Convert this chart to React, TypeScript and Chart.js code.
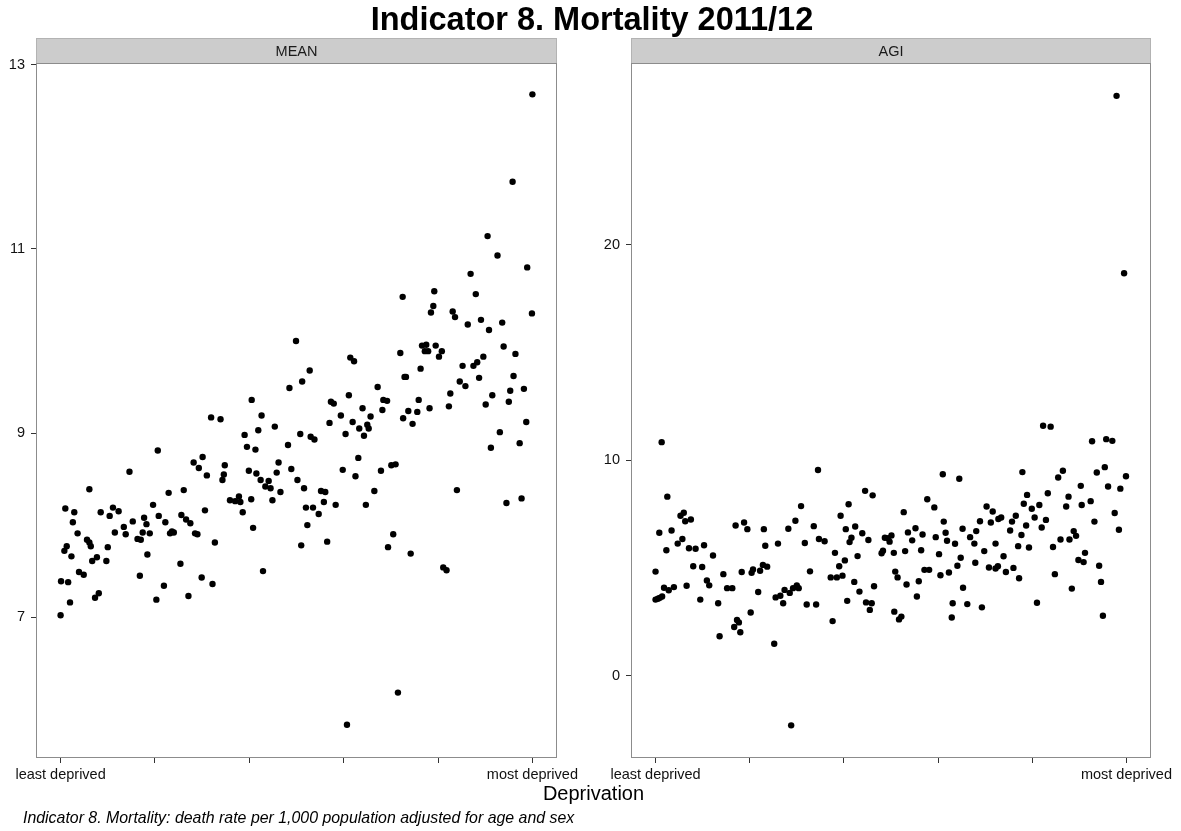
import React, { useEffect, useRef } from 'react';
import { Chart, registerables } from 'chart.js';

Chart.register(...registerables);

// ---------- data ----------
const chartTitle = 'Indicator 8. Mortality 2011/12';
const xAxisTitle = 'Deprivation';
const caption = 'Indicator 8. Mortality: death rate per 1,000 population adjusted for age and sex';
const panelNames = ['MEAN', 'AGI'];

const xTickValues = [0, 20, 40, 60, 80, 100];
const xTickLabels = ['least deprived', '', '', '', '', 'most deprived'];
const meanTicks = [7, 9, 11, 13];
const agiTicks = [0, 10, 20];

// deprivation position (0 = least deprived, 100 = most deprived)
const meanRank = [
  0, 0.1, 1.6, 2.0, 0.8, 1.3, 2.3, 1.0, 2.9, 2.6, 3.6, 3.9, 4.9, 5.6, 6.1, 6.4, 6.1, 6.7, 7.7, 7.3,
  8.1, 8.5, 9.7, 10.0, 10.4, 11.1, 12.3, 11.5, 13.4, 13.8, 14.6, 15.3, 16.3, 17.0, 17.4, 16.8, 17.7, 18.2, 18.4, 18.9,
  19.6, 20.3, 20.6, 20.8, 21.9, 22.2, 22.9, 23.2, 23.6, 24.0, 25.4, 25.6, 26.6, 27.5, 26.1, 27.1, 28.2, 29.3, 30.1, 31.0,
  28.5, 29.0, 29.9, 30.6, 31.9, 32.2, 32.7,
  33.9, 34.8, 34.6, 34.3, 35.9, 37.0, 37.8, 38.1, 38.6, 39.0, 39.5, 39.9, 40.4, 40.5, 40.8, 41.3, 41.5, 41.9, 42.4, 42.6,
  42.9, 43.4, 44.1, 44.5, 44.9, 45.4, 45.8, 46.2, 46.6, 48.2, 48.5, 48.9, 49.9, 50.2, 50.8, 51.0, 51.2, 51.6, 52.0, 52.3,
  52.8, 53.0, 53.5, 53.8, 54.7, 55.2, 55.8, 56.1, 56.5, 57.0, 57.3, 57.9, 58.3, 59.4, 59.8, 60.4, 60.7, 61.1, 61.4, 62.2,
  61.9, 62.5, 63.1, 63.3, 64.0, 64.3, 64.7, 65.0, 65.3, 65.7, 66.5, 67.2, 67.9, 68.2, 68.4, 69.2, 69.4,
  70.1, 71.0, 70.5, 71.5, 72.0, 72.5, 72.6, 72.9, 73.2, 73.7, 74.2, 74.6, 75.6, 75.9, 76.3, 76.6, 77.5, 77.2, 77.9, 78.2,
  78.5, 79.0, 79.2, 79.5, 80.2, 80.8, 81.1, 81.8, 82.3, 82.6, 83.1, 83.6, 84.0, 84.6, 85.2, 85.8, 86.3, 86.9, 87.5, 88.3,
  88.0, 88.7, 89.1, 89.6, 90.1, 90.5, 90.8, 91.2, 91.5, 92.6, 93.1, 93.6, 93.9, 94.5, 95.0, 95.3, 95.8, 96.0, 96.4, 97.3,
  97.7, 98.2, 98.7, 98.9, 99.9, 100,
];
const meanRate = [
  7.02, 7.39, 7.38, 7.16, 7.72, 7.77, 7.66, 8.18, 8.14, 8.03, 7.91, 7.49, 7.46, 7.84, 7.81, 7.77, 8.39, 7.61, 7.65, 7.21,
  7.26, 8.14, 7.61, 7.76, 8.10, 8.19, 8.15, 7.92, 7.98, 7.90, 8.58, 8.04, 7.85, 7.84, 7.92, 7.45, 8.08, 8.01, 7.68, 7.91,
  8.22, 7.19, 8.81, 8.10, 7.34, 8.03, 8.35, 7.91, 7.93, 7.92, 7.58, 8.11, 8.06, 8.02, 8.38, 7.23, 8.68, 8.62, 8.74, 8.54,
  7.91, 7.90, 7.43, 8.16, 9.17, 7.36, 7.81,
  9.15, 8.65, 8.55, 8.49, 8.27, 8.26, 8.31, 8.25, 8.14, 8.98, 8.85, 8.59, 8.28, 9.36, 7.97, 8.82, 8.56, 9.03, 8.49, 9.19,
  7.50, 8.42, 8.48, 8.40, 8.27, 9.07, 8.57, 8.68, 8.36, 8.87, 9.49, 8.61, 10.00, 8.49, 8.99, 7.78, 9.56, 8.40, 8.19, 8.00,
  9.68, 8.96, 8.19, 8.93, 8.12, 8.37, 8.25, 8.36, 7.82, 9.11, 9.34, 9.32, 8.22, 9.19, 8.60, 8.99, 5.83, 9.41, 9.82, 9.78,
  9.12, 8.53, 8.73, 9.05, 9.27, 8.97, 8.22, 9.09, 9.05, 9.18, 8.37, 9.50, 8.59, 9.25, 9.36, 9.35, 7.76,
  8.65, 8.66, 7.90, 6.18, 9.87, 10.48, 9.16, 9.61, 9.61, 9.24, 7.69, 9.10, 9.23, 9.36, 9.70, 9.95, 9.96, 9.89, 9.89, 9.27,
  10.31, 10.38, 10.54, 9.95, 9.83, 9.89, 7.54, 7.51, 9.29, 9.43, 10.32, 10.26, 8.38, 9.56, 9.73, 9.51, 10.18, 10.73, 9.73, 9.77,
  10.51, 9.60, 10.23, 9.83, 9.31, 11.14, 10.12, 8.84, 9.41, 10.93, 9.01, 10.20, 9.94, 8.24, 9.34, 9.46, 11.73, 9.62, 9.86, 8.89,
  8.29, 9.48, 9.12, 10.80, 10.30, 12.68,
];

const agiRank = [
  0, 0, 0.5, 0.9, 1.4, 1.3, 0.8, 2.3, 2.5, 1.8, 2.8, 3.9, 3.4, 4.7, 5.3, 6.0, 5.7, 6.3, 7.5, 6.6,
  7.1, 8.5, 8.0, 9.9, 9.5, 10.3, 10.9, 11.4, 12.2, 13.3, 13.6, 14.4, 15.2, 16.3, 17.0, 16.7, 17.3, 17.7, 18.0, 18.3,
  18.8, 19.5, 20.2, 20.4, 20.7, 21.8, 22.2, 22.8, 23.7, 23.0, 23.3, 25.2, 26.0, 25.5, 26.5, 27.1, 27.4, 28.5, 29.2, 30.0,
  30.4, 28.8, 28.2, 29.7, 30.9, 31.7, 32.1, 32.8,
  34.1, 33.6, 34.5, 34.7, 35.9, 37.6, 37.2, 38.5, 39.7, 38.1, 39.0, 39.3, 40.2, 40.4, 41.0, 40.7, 41.2, 41.6, 42.2, 42.4,
  42.9, 43.3, 43.9, 44.5, 44.7, 45.9, 45.2, 45.5, 46.1, 46.4, 48.0, 48.3, 48.7, 49.4, 50.1, 49.7, 50.6, 50.9, 51.4, 50.7,
  51.7, 52.2, 52.7, 53.0, 53.3, 53.6, 54.5, 55.2, 55.5, 55.9, 56.4, 56.7, 57.1, 58.1, 57.7, 59.2, 59.5, 60.2, 60.5, 61.0,
  61.2, 61.6, 61.9, 62.3, 62.9, 63.1, 63.6, 64.1, 64.5, 64.8, 65.2, 65.3, 66.2, 66.8, 67.7, 67.9, 68.1,
  68.9, 69.3, 69.8, 70.3, 71.6, 70.8, 71.2, 72.2, 72.2, 72.7, 72.8, 73.4, 73.9, 74.4, 75.3, 75.7, 76.0, 76.5, 77.0, 77.2,
  77.7, 77.9, 78.2, 78.7, 78.9, 79.3, 79.9, 80.5, 81.0, 81.5, 82.0, 82.3, 83.9, 82.9, 83.3, 84.4, 84.8, 85.5, 86.5, 86.0,
  87.2, 87.7, 87.9, 88.4, 88.8, 89.3, 89.8, 90.9, 90.3, 90.5, 91.2, 92.4, 92.7, 93.2, 93.7, 94.2, 94.6, 95.0, 95.4, 95.7,
  97.0, 96.1, 97.5, 97.9, 98.4, 98.7, 99.5, 99.9,
];
const agiValue = [
  4.83, 3.53, 3.57, 3.61, 3.67, 10.84, 6.63, 5.82, 8.31, 4.08, 3.96, 4.11, 6.74, 6.13, 7.42, 7.56, 6.34, 7.17, 7.25, 4.17,
  5.91, 5.89, 5.08, 5.04, 3.53, 6.05, 4.42, 4.19, 5.58, 3.36, 1.83, 4.71, 4.06, 4.06, 6.97, 2.26, 2.58, 2.47, 2.01, 4.81,
  7.11, 6.80, 2.93, 4.77, 4.93, 3.88, 4.87, 5.14, 5.06, 6.80, 6.03, 1.48, 6.13, 3.63, 3.71, 3.36, 3.98, 3.84, 4.06, 4.19,
  4.06, -2.31, 6.82, 7.19, 7.87, 6.16, 3.30, 4.84,
  3.30, 6.94, 9.55, 6.34, 6.24, 2.53, 4.56, 4.56, 4.64, 5.70, 5.08, 7.42, 5.35, 6.80, 7.96, 3.47, 6.20, 6.40, 4.35, 6.92,
  5.55, 3.90, 6.61, 8.58, 3.40, 3.36, 6.30, 3.05, 8.37, 4.15, 5.68, 5.80, 6.40, 6.38, 6.51, 6.22, 5.70, 4.83, 4.56, 2.97,
  2.61, 2.74, 7.59, 5.78, 4.23, 6.65, 6.28, 6.84, 3.67, 4.38, 5.82, 6.55, 4.91, 4.91, 8.19, 7.81, 6.43, 5.64, 4.66, 9.35,
  7.15, 6.63, 6.26, 4.79, 2.70, 3.36, 6.12, 5.10, 9.14, 5.47, 6.82, 4.08, 3.32, 6.43, 6.13, 5.24, 6.71,
  7.17, 3.17, 5.78, 7.85, 7.62, 5.02, 7.11, 6.13, 4.97, 5.08, 7.27, 7.34, 5.54, 4.81, 6.74, 7.15, 5.00, 7.42, 6.01, 4.52,
  6.53, 9.45, 7.98, 6.97, 8.39, 5.95, 7.75, 7.34, 3.38, 7.92, 6.88, 11.60, 11.56, 7.23, 8.47, 5.97, 4.71, 9.20, 9.51, 6.32,
  7.85, 8.31, 6.32, 4.04, 6.71, 6.49, 5.37, 5.27, 8.81, 7.92, 5.70, 8.10, 10.88, 7.15, 9.43, 5.10, 4.35, 2.78, 9.68, 10.98,
  10.90, 8.78, 7.55, 26.92, 6.77, 8.68, 18.68, 9.26,
];

// ---------- layout constants ----------
const PAGE_W = 1181;
const PAGE_H = 831;
const PLOT_TOP = 64;
const PLOT_BOTTOM = 757;
const STRIP_TOP = 38;
const FONT = '"Liberation Sans", Arial, Helvetica, sans-serif';

type PanelProps = {
  left: number;
  width: number;
  areaLeft: number;
  areaRight: number;
  name: string;
  xs: number[];
  ys: number[];
  yTicks: number[];
  yMin: number;
  yMax: number;
};

function Panel({ left, width, areaLeft, areaRight, name, xs, ys, yTicks, yMin, yMax }: PanelProps) {
  const ref = useRef<HTMLCanvasElement | null>(null);

  useEffect(() => {
    const canvas = ref.current;
    if (!canvas) return;
    const xAxisHeight = 30;
    const stripPlugin = {
      id: 'strip' + name,
      beforeDraw(chart: any) {
        const { ctx, chartArea } = chart;
        ctx.save();
        ctx.fillStyle = '#ffffff';
        ctx.fillRect(0, 0, chart.width, chart.height);
        // strip
        ctx.fillStyle = '#cccccc';
        ctx.fillRect(chartArea.left - 0.5, STRIP_TOP, chartArea.right - chartArea.left + 1, PLOT_TOP - STRIP_TOP);
        ctx.strokeStyle = '#b3b3b3';
        ctx.lineWidth = 1;
        ctx.strokeRect(chartArea.left - 0.5, STRIP_TOP + 0.5, chartArea.right - chartArea.left + 1, PLOT_TOP - STRIP_TOP - 1);
        ctx.fillStyle = '#1a1a1a';
        ctx.font = `14.5px ${FONT}`;
        ctx.textAlign = 'center';
        ctx.textBaseline = 'middle';
        ctx.fillText(name, (chartArea.left + chartArea.right) / 2, (STRIP_TOP + PLOT_TOP) / 2 + 1);
        ctx.restore();
      },
      afterDraw(chart: any) {
        const { ctx, chartArea } = chart;
        ctx.save();
        ctx.strokeStyle = '#8c8c8c';
        ctx.lineWidth = 1;
        ctx.strokeRect(chartArea.left - 0.5, chartArea.top - 0.5, chartArea.right - chartArea.left + 1, chartArea.bottom - chartArea.top + 1);
        ctx.restore();
      },
    };

    const chart = new Chart(canvas, {
      type: 'scatter',
      data: {
        datasets: [
          {
            label: name,
            data: xs.map((x, i) => ({ x, y: ys[i] })),
            backgroundColor: '#000000',
            borderColor: '#000000',
            borderWidth: 0,
            pointRadius: 3.2,
            pointHoverRadius: 3.2,
          },
        ],
      },
      options: {
        animation: false,
        responsive: false,
        maintainAspectRatio: false,
        events: [],
        layout: {
          padding: {
            left: 0,
            right: width - areaRight,
            top: PLOT_TOP,
            bottom: PAGE_H - PLOT_BOTTOM - xAxisHeight,
          },
        },
        plugins: {
          legend: { display: false },
          tooltip: { enabled: false },
        },
        scales: {
          x: {
            type: 'linear',
            min: -5,
            max: 105,
            afterBuildTicks: (scale: any) => {
              scale.ticks = xTickValues.map((v) => ({ value: v }));
            },
            afterFit: (scale: any) => {
              scale.height = xAxisHeight;
              scale.paddingLeft = 0;
              scale.paddingRight = 0;
            },
            ticks: {
              autoSkip: false,
              maxRotation: 0,
              minRotation: 0,
              padding: 3,
              color: '#111111',
              font: { family: FONT, size: 14.5 },
              callback: (_v: any, i: number) => xTickLabels[i],
            },
            grid: {
              display: true,
              drawOnChartArea: false,
              drawTicks: true,
              tickLength: 6,
              color: '#333333',
              tickColor: '#333333',
              lineWidth: 1,
            },
            border: { display: false },
          },
          y: {
            type: 'linear',
            min: yMin,
            max: yMax,
            afterBuildTicks: (scale: any) => {
              scale.ticks = yTicks.map((v) => ({ value: v }));
            },
            afterFit: (scale: any) => {
              scale.width = areaLeft;
              scale.paddingTop = 0;
              scale.paddingBottom = 0;
            },
            ticks: {
              padding: 6,
              color: '#111111',
              font: { family: FONT, size: 14.5 },
              callback: (v: any) => String(v),
            },
            grid: {
              display: true,
              drawOnChartArea: false,
              drawTicks: true,
              tickLength: 6,
              color: '#333333',
              tickColor: '#333333',
              lineWidth: 1,
            },
            border: { display: false },
          },
        },
      },
      plugins: [stripPlugin],
    });
    return () => {
      chart.destroy();
    };
  }, []);

  return (
    <canvas
      ref={ref}
      width={width}
      height={PAGE_H}
      style={{ position: 'absolute', left, top: 0, width, height: PAGE_H, display: 'block' }}
    />
  );
}

export default function App() {
  return (
    <div
      style={{
        position: 'fixed',
        left: 0,
        top: 0,
        width: PAGE_W,
        height: PAGE_H,
        background: '#ffffff',
        overflow: 'hidden',
        fontFamily: FONT,
      }}
    >
      <Panel
        left={0}
        width={594}
        areaLeft={37}
        areaRight={556}
        name={panelNames[0]}
        xs={meanRank}
        ys={meanRate}
        yTicks={meanTicks}
        yMin={5.48}
        yMax={13.01}
      />
      <Panel
        left={594}
        width={587}
        areaLeft={38}
        areaRight={556}
        name={panelNames[1]}
        xs={agiRank}
        ys={agiValue}
        yTicks={agiTicks}
        yMin={-3.78}
        yMax={28.4}
      />
      <div
        style={{
          position: 'absolute',
          left: 0,
          top: 3,
          width: 1184,
          textAlign: 'center',
          fontSize: 32.5,
          lineHeight: '32.5px',
          fontWeight: 'bold',
          color: '#000',
          whiteSpace: 'nowrap',
        }}
      >
        {chartTitle}
      </div>
      <div
        style={{
          position: 'absolute',
          left: 0,
          top: 783,
          width: 1187,
          textAlign: 'center',
          fontSize: 20,
          lineHeight: '20px',
          color: '#000',
          whiteSpace: 'nowrap',
        }}
      >
        {xAxisTitle}
      </div>
      <div
        style={{
          position: 'absolute',
          left: 23,
          top: 810,
          fontSize: 15.9,
          lineHeight: '15.9px',
          fontStyle: 'italic',
          color: '#000',
          whiteSpace: 'nowrap',
        }}
      >
        {caption}
      </div>
    </div>
  );
}
